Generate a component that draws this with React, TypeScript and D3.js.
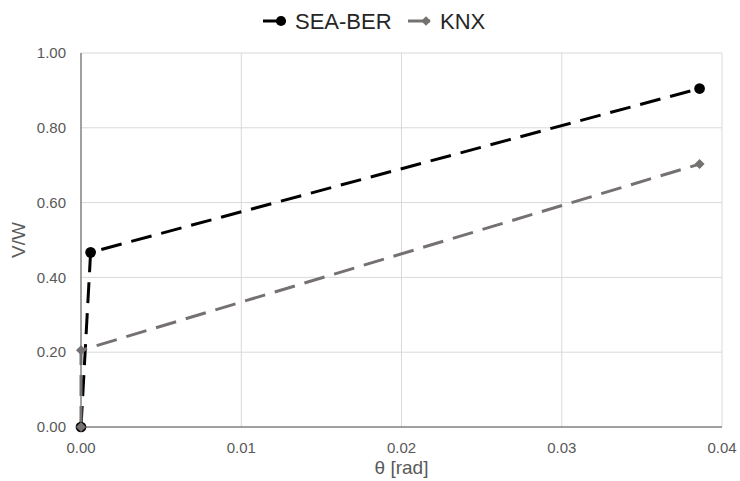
import * as d3 from "d3";
import { useEffect, useRef } from "react";

// SEA-BER series
const seaTheta = [0, 0.0006, 0.0386];
const seaVW = [0, 0.467, 0.905];
// KNX series
const knxTheta = [0, 0, 0.0386];
const knxVW = [0, 0.205, 0.703];

const xTicks = [0, 0.01, 0.02, 0.03, 0.04];
const yTicks = [0, 0.2, 0.4, 0.6, 0.8, 1.0];
const seriesNames = ["SEA-BER", "KNX"];

const App = () => {
  const width = 740;
  const height = 481;
  const margin = { top: 53, bottom: 54, right: 18, left: 81 };
  const svgRef = useRef(null);

  useEffect(() => {
    if (!svgRef.current) return;
    const svg = d3.select(svgRef.current);
    svg.selectAll("*").remove();

    const plotWidth = width - margin.left - margin.right;
    const plotHeight = height - margin.top - margin.bottom;
    const font = "'Liberation Sans', Arial, sans-serif";
    const textColor = "#595959";

    const x = d3.scaleLinear([0, 0.04], [0, plotWidth]);
    const y = d3.scaleLinear([0, 1], [plotHeight, 0]);

    const plot = svg
      .append("g")
      .attr("transform", `translate(${margin.left}, ${margin.top})`);

    // gridlines
    plot
      .append("g")
      .selectAll("line")
      .data(yTicks.filter((d) => d > 0))
      .join("line")
      .attr("x1", 0)
      .attr("x2", plotWidth)
      .attr("y1", (d) => y(d))
      .attr("y2", (d) => y(d))
      .attr("stroke", "#d9d9d9")
      .attr("stroke-width", 1);

    plot
      .append("g")
      .selectAll("line")
      .data(xTicks.filter((d) => d > 0))
      .join("line")
      .attr("x1", (d) => x(d))
      .attr("x2", (d) => x(d))
      .attr("y1", 0)
      .attr("y2", plotHeight)
      .attr("stroke", "#d9d9d9")
      .attr("stroke-width", 1);

    // axis lines
    plot
      .append("line")
      .attr("x1", 0)
      .attr("x2", plotWidth)
      .attr("y1", plotHeight)
      .attr("y2", plotHeight)
      .attr("stroke", "#808080")
      .attr("stroke-width", 1.5);
    plot
      .append("line")
      .attr("x1", 0)
      .attr("x2", 0)
      .attr("y1", 0)
      .attr("y2", plotHeight)
      .attr("stroke", "#808080")
      .attr("stroke-width", 1.5);

    // tick labels
    plot
      .append("g")
      .selectAll("text")
      .data(yTicks)
      .join("text")
      .attr("x", -15)
      .attr("y", (d) => y(d))
      .attr("dy", "0.35em")
      .attr("text-anchor", "end")
      .attr("font-family", font)
      .attr("font-size", 15)
      .attr("fill", textColor)
      .text((d) => d.toFixed(2));

    plot
      .append("g")
      .selectAll("text")
      .data(xTicks)
      .join("text")
      .attr("x", (d) => x(d))
      .attr("y", plotHeight + 26)
      .attr("text-anchor", "middle")
      .attr("font-family", font)
      .attr("font-size", 15)
      .attr("fill", textColor)
      .text((d) => d.toFixed(2));

    // axis titles
    svg
      .append("text")
      .attr("x", margin.left + plotWidth / 2)
      .attr("y", height - 7)
      .attr("text-anchor", "middle")
      .attr("font-family", font)
      .attr("font-size", 19)
      .attr("fill", textColor)
      .text("θ [rad]");

    svg
      .append("text")
      .attr("transform", `translate(25, ${margin.top + plotHeight / 2}) rotate(-90)`)
      .attr("text-anchor", "middle")
      .attr("font-family", font)
      .attr("font-size", 19)
      .attr("fill", textColor)
      .text("V/W");

    const line = d3
      .line<[number, number]>()
      .x((d) => x(d[0]))
      .y((d) => y(d[1]));

    const series = [
      {
        name: seriesNames[0],
        pts: seaTheta.map((t, i) => [t, seaVW[i]] as [number, number]),
        color: "#000000",
        symbol: d3.symbolCircle,
        size: 90,
        rotate: 0,
      },
      {
        name: seriesNames[1],
        pts: knxTheta.map((t, i) => [t, knxVW[i]] as [number, number]),
        color: "#767171",
        symbol: d3.symbolSquare,
        size: 50,
        rotate: 45,
      },
    ];

    series.forEach((s) => {
      plot
        .append("path")
        .datum(s.pts)
        .attr("d", line)
        .attr("fill", "none")
        .attr("stroke", s.color)
        .attr("stroke-width", 3)
        .attr("stroke-dasharray", "21,10");
    });
    series.forEach((s) => {
      plot
        .append("g")
        .selectAll("path")
        .data(s.pts)
        .join("path")
        .attr("transform", (d) => `translate(${x(d[0])}, ${y(d[1])}) rotate(${s.rotate})`)
        .attr("d", d3.symbol(s.symbol, s.size)())
        .attr("fill", s.color);
    });

    // legend
    const legend = svg.append("g").attr("transform", "translate(0, 21)");
    const legendX = [263, 408];
    series.forEach((s, i) => {
      const g = legend.append("g").attr("transform", `translate(${legendX[i]}, 0)`);
      g.append("line")
        .attr("x1", 0)
        .attr("x2", 22)
        .attr("y1", 0)
        .attr("y2", 0)
        .attr("stroke", s.color)
        .attr("stroke-width", 3);
      g.append("path")
        .attr("transform", `translate(18, 0) rotate(${s.rotate})`)
        .attr("d", d3.symbol(s.symbol, s.size * 0.9)())
        .attr("fill", s.color);
      g.append("text")
        .attr("x", 32)
        .attr("dy", "0.36em")
        .attr("font-family", font)
        .attr("font-size", 22)
        .attr("fill", "#262626")
        .text(s.name);
    });
  }, []);

  return (
    <svg
      width={width}
      height={height}
      ref={svgRef}
      style={{ position: "absolute", left: 0, top: 0, background: "white" }}
    ></svg>
  );
};

export default App;
